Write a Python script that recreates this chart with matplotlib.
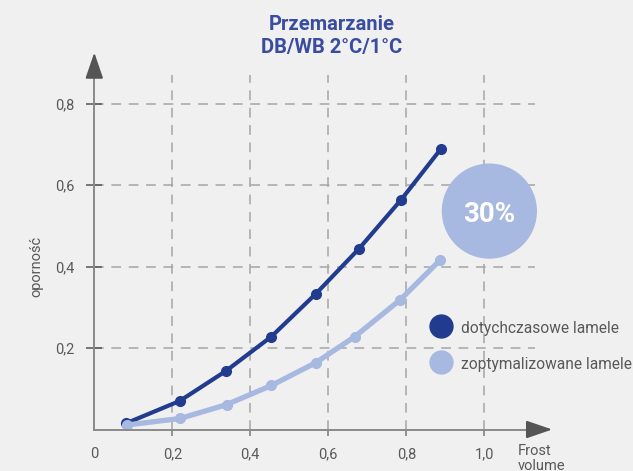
import matplotlib.pyplot as plt
from matplotlib.lines import Line2D

plt.rcParams['font.family'] = ['Roboto', 'DejaVu Sans']
plt.rcParams['lines.scale_dashes'] = False

# dane
frost_old = [0.081, 0.219, 0.338, 0.454, 0.568, 0.679, 0.786, 0.889]
opor_old = [0.015, 0.070, 0.144, 0.228, 0.333, 0.444, 0.563, 0.689]
frost_new = [0.083, 0.220, 0.339, 0.454, 0.568, 0.668, 0.784, 0.886]
opor_new = [0.011, 0.027, 0.061, 0.108, 0.164, 0.228, 0.318, 0.415]

x_ticks = [0, 0.2, 0.4, 0.6, 0.8, 1.0]
x_labels = ['0', '0,2', '0,4', '0,6', '0,8', '1,0']
y_ticks = [0.2, 0.4, 0.6, 0.8]
y_labels = ['0,2', '0,4', '0,6', '0,8']
names = ['dotychczasowe lamele', 'zoptymalizowane lamele']
badge = '30%'

bg = '#F0F0F0'
dark = '#213B8F'
light = '#A7B9E0'
grey = '#555555'
txt = '#595959'

W, H = 633, 471
fig = plt.figure(figsize=(W / 100, H / 100), dpi=100, facecolor=bg)
ax = fig.add_axes([94.3 / W, 41.5 / H, (535 - 94.3) / W, (429.5 - 75) / H])
ax.set_facecolor(bg)
ax.set_xlim(0, 1.13)
ax.set_ylim(0, 0.87)

for side in ['top', 'right']:
    ax.spines[side].set_visible(False)
for side in ['left', 'bottom']:
    ax.spines[side].set_color('#8a8a8a')
    ax.spines[side].set_linewidth(1.4)

ax.set_xticks(x_ticks, x_labels)
ax.set_yticks(y_ticks, y_labels)
ax.tick_params(axis='y', direction='inout', length=11, width=1.1, color=grey,
               pad=8.5, labelsize=10.5, labelcolor=txt)
ax.tick_params(axis='x', direction='out', length=4.5, width=1.1, color='#777777',
               pad=8, labelsize=10.5, labelcolor=txt)
ax.xaxis.get_major_ticks()[0].tick1line.set_visible(False)

ax.set_axisbelow(True)
ax.grid(True, color='#a5a5a5', lw=1.1, dashes=(7, 5.5))

# strzałki osi
arrow = dict(arrowstyle='-|>,head_length=1.6,head_width=0.55', color=grey, lw=1.4,
             shrinkA=0, shrinkB=0, mutation_scale=10)
ax.annotate('', xy=(0, 0.925), xytext=(0, 0.87), arrowprops=arrow, annotation_clip=False)
ax.annotate('', xy=(1.174, 0), xytext=(1.13, 0), arrowprops=arrow, annotation_clip=False)

ax.plot(frost_old, opor_old, color=dark, lw=3, marker='o', ms=7,
        solid_joinstyle='round', solid_capstyle='round', clip_on=False)
ax.plot(frost_new, opor_new, color=light, lw=3.8, marker='o', ms=7,
        solid_joinstyle='round', solid_capstyle='round', clip_on=False)

# kółko z procentem
ax.scatter([1.013], [0.536], s=4700, color=light, edgecolors='none', zorder=3,
           clip_on=False)
ax.text(1.013, 0.536, badge, color='white', fontsize=20, fontweight='bold',
        ha='center', va='center_baseline', zorder=4)

handles = [Line2D([], [], ls='', marker='o', ms=16.5, color=c) for c in [dark, light]]
leg = ax.legend(handles, names, loc='center left', frameon=False,
                bbox_to_anchor=(429.5 / W, 1 - 346.3 / H), bbox_transform=fig.transFigure,
                borderpad=0, borderaxespad=0, handlelength=1.5, handleheight=1.5,
                handletextpad=0.55, labelspacing=1.1, fontsize=11.2)
for t in leg.get_texts():
    t.set_color(txt)

fig.text(331.7 / W, 1 - 36 / H, 'Przemarzanie\nDB/WB 2°C/1°C', color='#394C9F',
         fontsize=14.5, fontweight='bold', ha='center', va='center', linespacing=1.28)
fig.text(36.7 / W, 1 - 266 / H, 'oporność', rotation=90, ha='center', va='center',
         fontsize=10.5, color=txt)
fig.text(517.7 / W, 1 - 444 / H, 'Frost\nvolume', ha='left', va='top',
         fontsize=10.5, color=txt, linespacing=1.05)

fig.savefig('out.png', dpi=100, facecolor=bg)
